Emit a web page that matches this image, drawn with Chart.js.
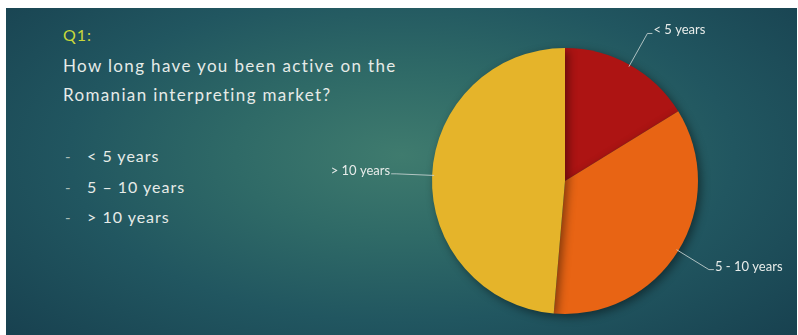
<!DOCTYPE html>
<html>
<head>
<meta charset="utf-8">
<script src="https://cdn.jsdelivr.net/npm/chart.js@4"></script>
<style>
  html, body { margin: 0; padding: 0; background: #fff; }
  #slide {
    position: absolute; left: 6px; top: 8px; width: 791px; height: 327px;
    background: radial-gradient(ellipse 70% 85% at 50% 45%, #3f7b6e 0%, #2f6a67 30%, #215660 60%, #173f4e 100%);
    overflow: hidden;
  }
  #chart { position: absolute; left: 0; top: 0; }
  .txt { position: absolute; font-family: Lato, sans-serif; color: #e6ebe8; white-space: nowrap; }
  #q { left: 57px; top: 17px; font-size: 16px; color: #c9d83a; letter-spacing: 1px; }
  .line { font-size: 17px; left: 57px; letter-spacing: 1.35px; }
  .dash { font-size: 15px; left: 59px; color: #a9bcb6; }
  .item { font-size: 16px; left: 81px; letter-spacing: 1px; }
</style>
</head>
<body>
<div id="slide">
  <div class="txt" id="q">Q1:</div>
  <div class="txt line" style="top:47px">How long have you been active on the</div>
  <div class="txt line" style="top:76px">Romanian interpreting market?</div>
  <div class="txt dash" style="top:139px">-</div>
  <div class="txt item" style="top:138px">&lt; 5 years</div>
  <div class="txt dash" style="top:170px">-</div>
  <div class="txt item" style="top:169px">5 – 10 years</div>
  <div class="txt dash" style="top:200px">-</div>
  <div class="txt item" style="top:199px">&gt; 10 years</div>
</div>
<canvas id="chart" width="798" height="335"></canvas>
<script>
const categories = ["< 5 years", "5 - 10 years", "> 10 years"];
const responses = [6, 13, 18];
const sliceColors = ["#ad1413", "#e86414", "#e5b42a"];

// leader lines + labels drawn from each arc's own geometry
const pieLabels = {
    id: "pieLabels",
    beforeDatasetsDraw(chart) {
        const ctx = chart.ctx;
        ctx.save();
        ctx.shadowColor = "rgba(0,0,0,0.45)";
        ctx.shadowBlur = 10;
        ctx.shadowOffsetX = 3;
        ctx.shadowOffsetY = 3;
    },
    afterDatasetsDraw(chart) {
        const ctx = chart.ctx;
        ctx.restore();
        const arcs = chart.getDatasetMeta(0).data;
        ctx.save();
        ctx.font = "13px Lato, sans-serif";
        ctx.fillStyle = "#e8ecea";
        ctx.strokeStyle = "rgba(200,212,210,0.85)";
        ctx.lineWidth = 1;
        arcs.forEach((arc, i) => {
            const mid = (arc.startAngle + arc.endAngle) / 2;
            const r = arc.outerRadius;
            const x0 = arc.x + Math.cos(mid) * (r - 2);
            const y0 = arc.y + Math.sin(mid) * (r - 2);
            const x1 = arc.x + Math.cos(mid) * (r + 36);
            const y1 = arc.y + Math.sin(mid) * (r + 36);
            const right = Math.cos(mid) >= 0;
            const x2 = x1 + (right ? 5 : -5);
            ctx.beginPath();
            ctx.moveTo(x0, y0);
            ctx.lineTo(x1, y1);
            ctx.lineTo(x2, y1);
            ctx.stroke();
            ctx.textAlign = right ? "left" : "right";
            ctx.textBaseline = "alphabetic";
            ctx.fillText(categories[i], x2 + (right ? 1 : -1), y1 + 1);
        });
        ctx.restore();
    }
};

new Chart(document.getElementById("chart"), {
    type: "pie",
    data: {
        labels: categories,
        datasets: [{
            data: responses,
            backgroundColor: sliceColors,
            borderWidth: 0,
        }],
    },
    options: {
        responsive: false,
        animation: false,
        layout: { padding: { left: 432, right: 100, top: 48, bottom: 21 } },
        plugins: {
            legend: { display: false },
            tooltip: { enabled: false },
        },
    },
    plugins: [pieLabels],
});
</script>
</body>
</html>
